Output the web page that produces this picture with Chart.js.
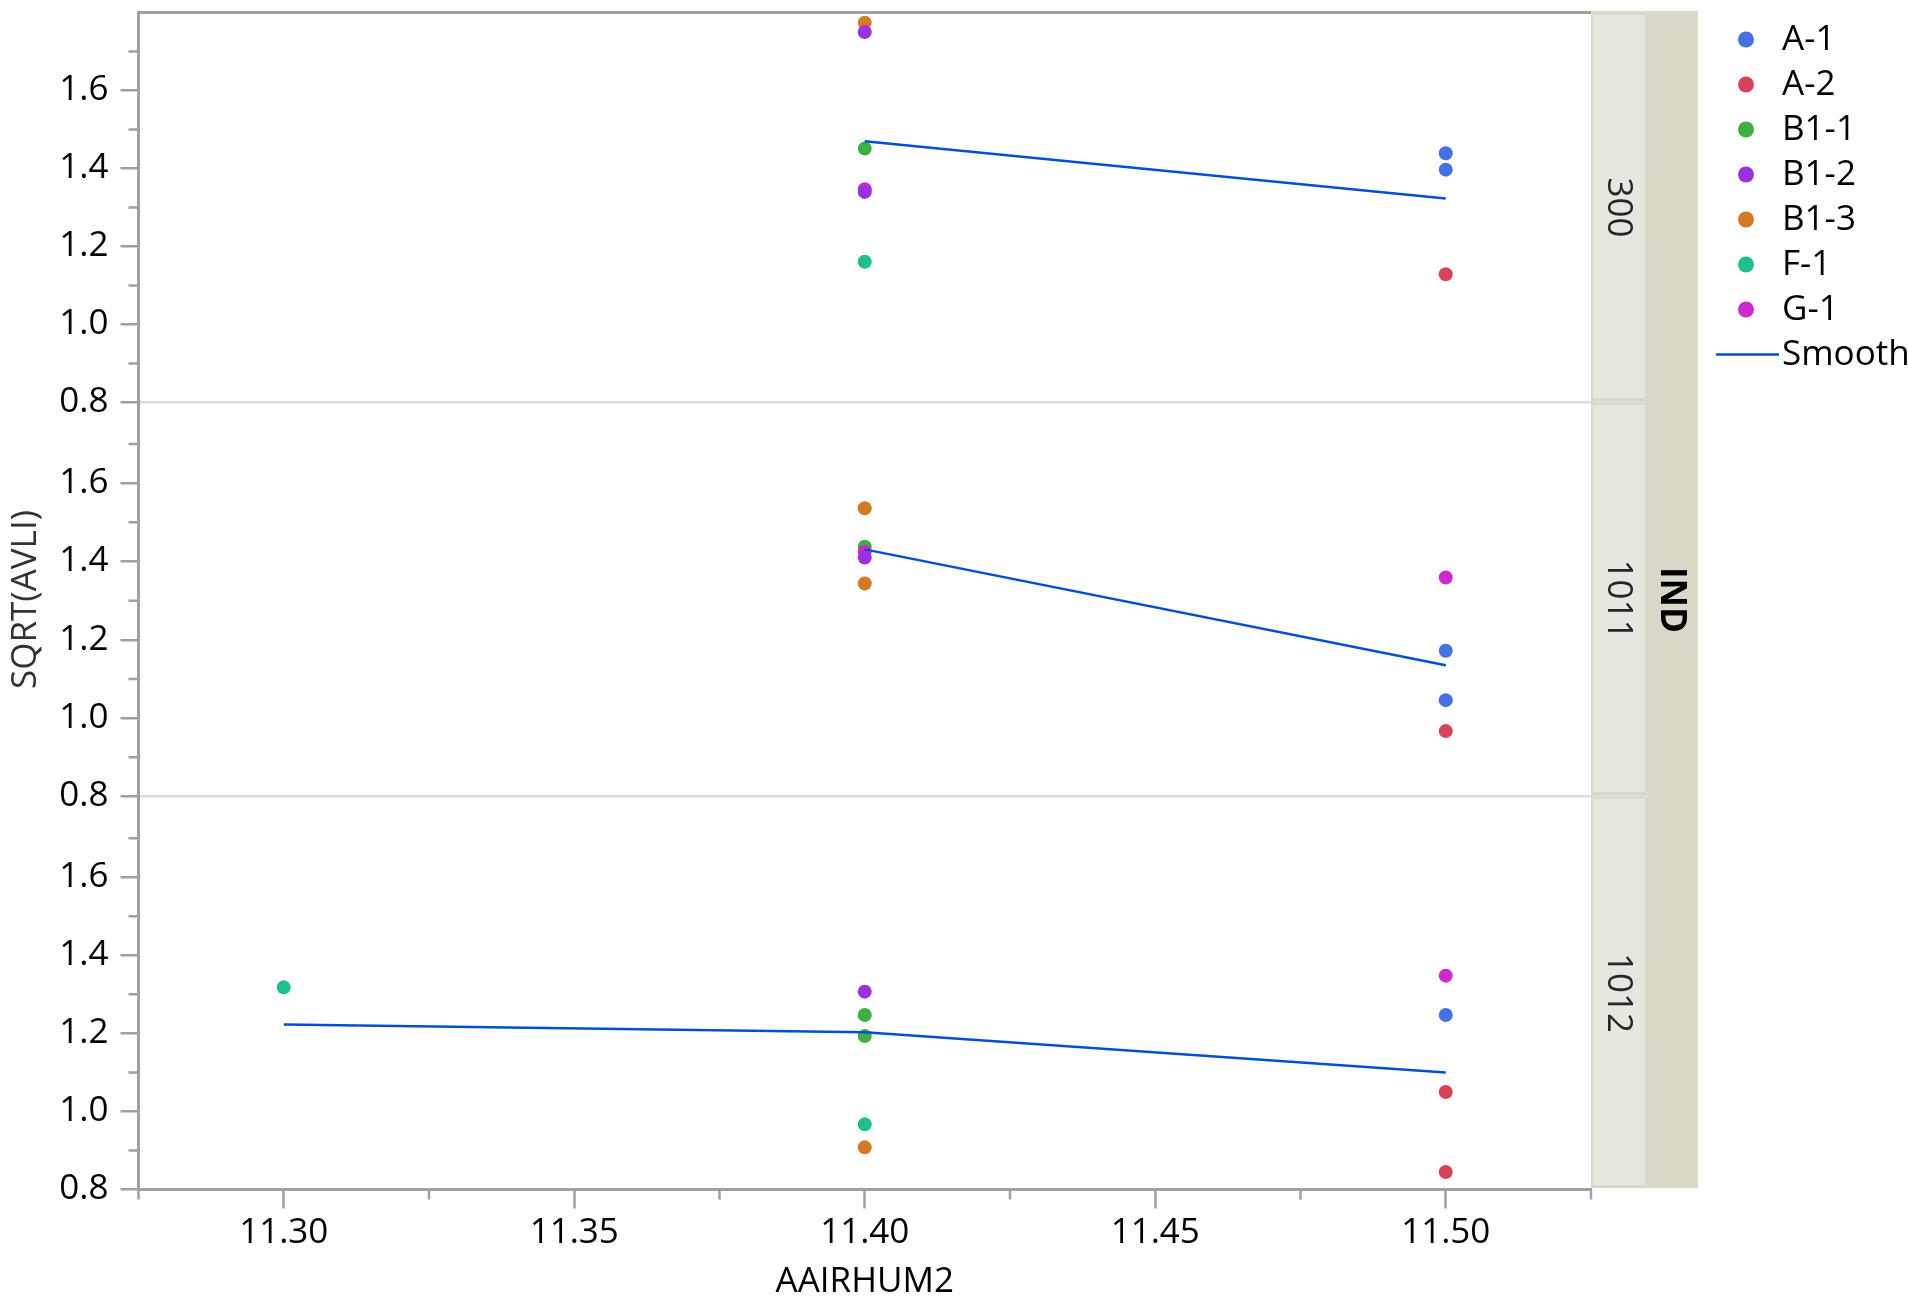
<!DOCTYPE html>
<html>
<head>
<meta charset="utf-8">
<title>SQRT(AVLI) vs AAIRHUM2 by IND</title>
<script src="https://cdn.jsdelivr.net/npm/chart.js@4.4.1/dist/chart.umd.min.js"></script>
<style>
  html, body { margin: 0; padding: 0; background: #ffffff; overflow: hidden; }
  canvas { display: block; }
</style>
</head>
<body>
<canvas id="chart" width="1908" height="1296"></canvas>
<script>
// ---- data ----
const seriesNames = ['A-1', 'A-2', 'B1-1', 'B1-2', 'B1-3', 'F-1', 'G-1'];
const panelLabels = ['300', '1011', '1012'];
const groupLabel = 'IND';
const xTitle = 'AAIRHUM2';
const yTitle = 'SQRT(AVLI)';
const smoothLabel = 'Smooth';

const xTickValues = [11.30, 11.35, 11.40, 11.45, 11.50];
const xMinorValues = [11.275, 11.325, 11.375, 11.425, 11.475, 11.525];
const yTickValues = [0.8, 1.0, 1.2, 1.4, 1.6];
const yMinorValues = [0.9, 1.1, 1.3, 1.5, 1.7];

// observations: [series, AAIRHUM2, SQRT(AVLI)]
const obs300 = [
  ['B1-3', 11.40, 1.774],
  ['B1-2', 11.40, 1.750],
  ['B1-1', 11.40, 1.451],
  ['G-1',  11.40, 1.347],
  ['B1-2', 11.40, 1.340],
  ['F-1',  11.40, 1.161],
  ['A-1',  11.50, 1.439],
  ['A-1',  11.50, 1.397],
  ['A-2',  11.50, 1.129]
];
const obs1011 = [
  ['B1-3', 11.40, 1.536],
  ['B1-1', 11.40, 1.438],
  ['G-1',  11.40, 1.425],
  ['B1-2', 11.40, 1.410],
  ['B1-3', 11.40, 1.344],
  ['G-1',  11.50, 1.359],
  ['A-1',  11.50, 1.172],
  ['A-1',  11.50, 1.046],
  ['A-2',  11.50, 0.967]
];
const obs1012 = [
  ['F-1',  11.30, 1.318],
  ['B1-2', 11.40, 1.307],
  ['B1-1', 11.40, 1.247],
  ['B1-1', 11.40, 1.193],
  ['F-1',  11.40, 0.967],
  ['B1-3', 11.40, 0.908],
  ['G-1',  11.50, 1.348],
  ['A-1',  11.50, 1.247],
  ['A-2',  11.50, 1.050],
  ['A-2',  11.50, 0.845]
];

// smoother curve per panel: [AAIRHUM2, fitted value]
const smooth300 = [[11.40, 1.470], [11.50, 1.323]];
const smooth1011 = [[11.40, 1.431], [11.50, 1.135]];
const smooth1012 = [[11.30, 1.223], [11.40, 1.203], [11.50, 1.100]];

// ---- styling ----
const seriesColors = ['#4472e0', '#d5455a', '#3cb043', '#9b30df', '#d37a26', '#20bf8f', '#cc2bcc'];
const smoothColor = '#0050d0';
const axisGray = '#a0a0a0';
const sepGray = '#dcdcdc';
const stripLight = '#e7e7df';
const stripDark = '#dad9c9';
const FONT = '"Open Sans", sans-serif';
const xRange = [11.275, 11.525];
const yMin = 0.8;
const yMax = [1.8, 1.806, 1.807];
const panelWeights = [390, 394, 393];
const drawRank = { 'B1-2': 1, 'G-1': 2 };

Chart.defaults.font.family = FONT;

const panelObs = [obs300, obs1011, obs1012];
const panelSmooth = [smooth300, smooth1011, smooth1012];

const datasets = [];
panelObs.forEach((rows, p) => {
  const yID = 'y' + p;
  datasets.push({
    label: smoothLabel,
    data: panelSmooth[p].map(([x, y]) => ({ x, y })),
    yAxisID: yID,
    showLine: true,
    borderColor: smoothColor,
    borderWidth: 2.5,
    pointRadius: 0,
    pointHoverRadius: 0,
    tension: 0,
    order: 0
  });
  seriesNames.forEach((name, i) => {
    const pts = rows.filter(r => r[0] === name).map(r => ({ x: r[1], y: r[2] }));
    if (!pts.length) return;
    datasets.push({
      label: name,
      data: pts,
      yAxisID: yID,
      backgroundColor: seriesColors[i],
      borderWidth: 0,
      pointRadius: 7,
      pointHoverRadius: 7,
      order: drawRank[name] || 3
    });
  });
});

function noEdgePadding(s) {
  s.paddingTop = 0;
  s.paddingBottom = 0;
  s.paddingLeft = 0;
  s.paddingRight = 0;
}

const scales = {
  x: {
    type: 'linear',
    position: 'bottom',
    min: xRange[0],
    max: xRange[1],
    afterBuildTicks: s => { s.ticks = xTickValues.map(v => ({ value: v })); },
    afterFit: s => { s.height = 106.5; noEdgePadding(s); },
    ticks: {
      callback: v => Number(v).toFixed(2),
      color: '#000',
      font: { size: 35 },
      padding: 4,
      autoSkip: false,
      maxRotation: 0
    },
    grid: {
      drawOnChartArea: false,
      drawTicks: true,
      tickLength: 19,
      tickColor: axisGray,
      tickWidth: 2.5
    },
    border: { color: axisGray, width: 3 },
    title: {
      display: true,
      text: xTitle,
      color: '#000',
      font: { size: 35, lineHeight: 1 },
      padding: { top: 0, bottom: -4 }
    }
  }
};

panelLabels.forEach((lab, p) => {
  scales['y' + p] = {
    type: 'linear',
    position: 'left',
    stack: 'panels',
    stackWeight: panelWeights[p],
    weight: panelLabels.length - p,
    min: yMin,
    max: yMax[p],
    afterBuildTicks: s => { s.ticks = yTickValues.map(v => ({ value: v })); },
    afterFit: s => { s.width = 138.5; noEdgePadding(s); },
    ticks: {
      callback: v => Number(v).toFixed(1),
      color: '#000',
      font: { size: 35 },
      padding: 12,
      autoSkip: false
    },
    grid: {
      color: ctx => (p < panelLabels.length - 1 && ctx.tick && ctx.tick.value === yMin) ? sepGray : 'rgba(0,0,0,0)',
      lineWidth: 2.5,
      drawTicks: true,
      tickLength: 18,
      tickColor: axisGray,
      tickWidth: 2.5
    },
    border: { color: axisGray, width: 3 },
    title: p === 1 ? {
      display: true,
      text: yTitle,
      color: '#333',
      font: { size: 35, lineHeight: 1 },
      padding: { top: 9, bottom: 0 }
    } : { display: false }
  };
});

// frame, minor ticks, panel strips and legend
const panelDecor = {
  id: 'panelDecor',
  beforeDraw(chart) {
    const ctx = chart.ctx;
    ctx.save();
    ctx.fillStyle = '#ffffff';
    ctx.fillRect(0, 0, chart.width, chart.height);
    ctx.restore();
  },
  afterDraw(chart) {
    const ctx = chart.ctx;
    const a = chart.chartArea;
    const xs = chart.scales.x;
    ctx.save();

    // top frame line
    ctx.strokeStyle = axisGray;
    ctx.lineWidth = 3;
    ctx.beginPath();
    ctx.moveTo(a.left - 1.5, a.top);
    ctx.lineTo(a.right + 1.5, a.top);
    ctx.stroke();

    // minor ticks
    ctx.lineWidth = 2.5;
    ctx.beginPath();
    xMinorValues.forEach(v => {
      const px = xs.getPixelForValue(v);
      ctx.moveTo(px, a.bottom);
      ctx.lineTo(px, a.bottom + 10);
    });
    panelLabels.forEach((lab, p) => {
      const ys = chart.scales['y' + p];
      yMinorValues.forEach(v => {
        if (v > ys.max) return;
        const py = ys.getPixelForValue(v);
        ctx.moveTo(a.left - 10, py);
        ctx.lineTo(a.left, py);
      });
    });
    ctx.stroke();

    // strips
    const sx0 = a.right;
    const sx1 = a.right + 54;
    const sx2 = a.right + 107;
    ctx.fillStyle = stripDark;
    ctx.fillRect(sx0, a.top - 1.5, sx2 - sx0, a.bottom - a.top);
    panelLabels.forEach((lab, p) => {
      const ys = chart.scales['y' + p];
      ctx.fillStyle = stripLight;
      ctx.fillRect(sx0 + 2, ys.top + 2.5, sx1 - sx0 - 2, ys.bottom - ys.top - 7);
      if (p < panelLabels.length - 1) {
        ctx.strokeStyle = sepGray;
        ctx.lineWidth = 2.5;
        ctx.beginPath();
        ctx.moveTo(sx0, ys.bottom);
        ctx.lineTo(sx1 + 2, ys.bottom);
        ctx.stroke();
      }
      vText(ctx, lab, (sx0 + sx1) / 2 - 0.5, (ys.top + ys.bottom) / 2, '35px ' + FONT, '#262626');
    });
    vText(ctx, groupLabel, (sx1 + sx2) / 2 - 1, (a.top + a.bottom) / 2 - 1, 'bold 35px ' + FONT, '#000');

    // legend
    const lx = 1746, tx = 1782, ly0 = 39.5, step = 45;
    ctx.font = '35px ' + FONT;
    ctx.textAlign = 'left';
    ctx.textBaseline = 'middle';
    seriesNames.forEach((name, i) => {
      const y = ly0 + i * step;
      ctx.fillStyle = seriesColors[i];
      ctx.beginPath();
      ctx.arc(lx, y, 8, 0, Math.PI * 2);
      ctx.fill();
      ctx.fillStyle = '#000';
      ctx.fillText(name, tx, y + 1);
    });
    const sy = ly0 + seriesNames.length * step;
    ctx.strokeStyle = smoothColor;
    ctx.lineWidth = 2.7;
    ctx.beginPath();
    ctx.moveTo(1716, sy);
    ctx.lineTo(1779, sy);
    ctx.stroke();
    ctx.fillStyle = '#000';
    ctx.fillText(smoothLabel, tx, sy + 1);

    ctx.restore();
  }
};

function vText(ctx, text, x, y, font, color) {
  ctx.save();
  ctx.translate(x, y);
  ctx.rotate(Math.PI / 2);
  ctx.font = font;
  ctx.fillStyle = color;
  ctx.textAlign = 'center';
  ctx.textBaseline = 'middle';
  ctx.fillText(text, 0, 0);
  ctx.restore();
}

new Chart(document.getElementById('chart'), {
  type: 'scatter',
  data: { datasets },
  options: {
    responsive: false,
    devicePixelRatio: 1,
    animation: false,
    events: [],
    layout: { padding: { top: 12.5, left: 0, right: 317, bottom: 0 } },
    plugins: {
      legend: { display: false },
      tooltip: { enabled: false }
    },
    scales
  },
  plugins: [panelDecor]
});
</script>
</body>
</html>
